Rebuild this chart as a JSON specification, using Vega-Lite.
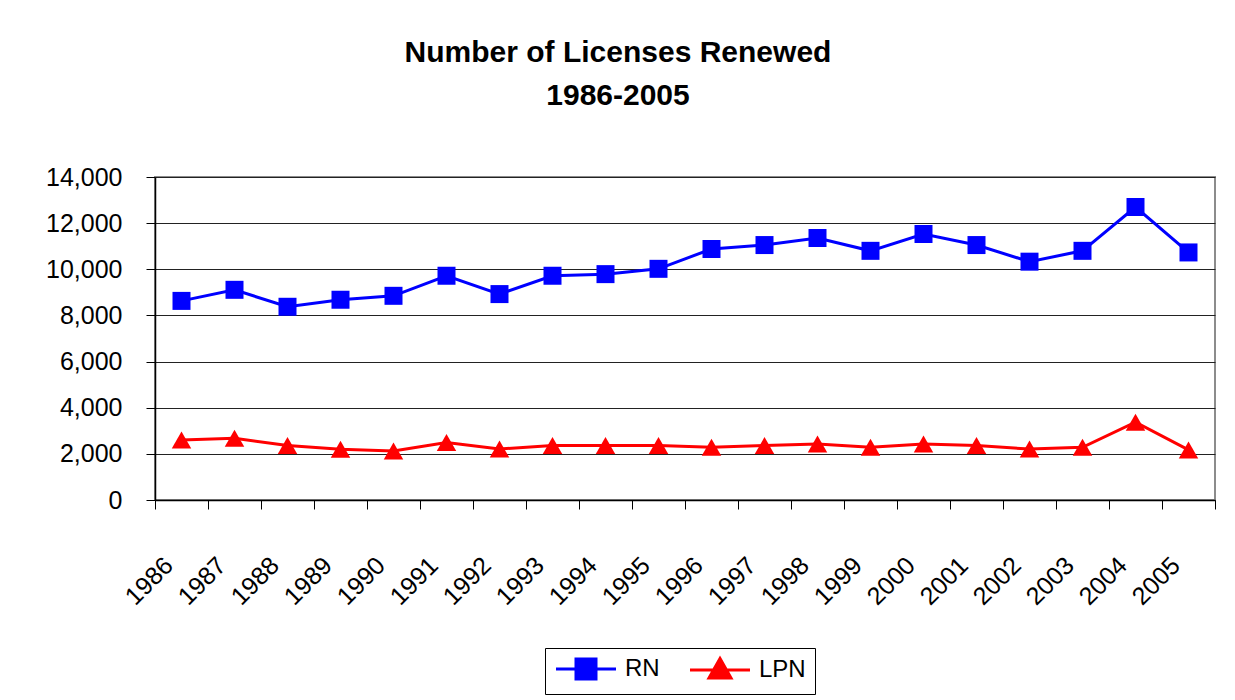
{
  "$schema": "https://vega.github.io/schema/vega-lite/v6.json",
  "autosize": "none",
  "padding": {"left": 155, "top": 177, "right": 20, "bottom": 200},
  "width": 1060,
  "height": 323,
  "background": "white",
  "config": {
    "font": "Liberation Sans",
    "view": {"stroke": "#8c8c8c", "strokeWidth": 2}
  },
  "title": {
    "text": ["Number of Licenses Renewed", "1986-2005"],
    "font": "Liberation Sans",
    "fontSize": 30,
    "fontWeight": "bold",
    "lineHeight": 43,
    "color": "black",
    "anchor": "middle",
    "frame": "group",
    "dx": -67,
    "offset": 54
  },
  "data": {
    "values": [
      {"year": "1986", "series": "RN", "value": 8630},
      {"year": "1987", "series": "RN", "value": 9110},
      {"year": "1988", "series": "RN", "value": 8375},
      {"year": "1989", "series": "RN", "value": 8680},
      {"year": "1990", "series": "RN", "value": 8850},
      {"year": "1991", "series": "RN", "value": 9720},
      {"year": "1992", "series": "RN", "value": 8925},
      {"year": "1993", "series": "RN", "value": 9720},
      {"year": "1994", "series": "RN", "value": 9790},
      {"year": "1995", "series": "RN", "value": 10020},
      {"year": "1996", "series": "RN", "value": 10880},
      {"year": "1997", "series": "RN", "value": 11050},
      {"year": "1998", "series": "RN", "value": 11355},
      {"year": "1999", "series": "RN", "value": 10800},
      {"year": "2000", "series": "RN", "value": 11530},
      {"year": "2001", "series": "RN", "value": 11050},
      {"year": "2002", "series": "RN", "value": 10330},
      {"year": "2003", "series": "RN", "value": 10800},
      {"year": "2004", "series": "RN", "value": 12700},
      {"year": "2005", "series": "RN", "value": 10730},
      {"year": "1986", "series": "LPN", "value": 2600},
      {"year": "1987", "series": "LPN", "value": 2675},
      {"year": "1988", "series": "LPN", "value": 2360},
      {"year": "1989", "series": "LPN", "value": 2200},
      {"year": "1990", "series": "LPN", "value": 2125},
      {"year": "1991", "series": "LPN", "value": 2490},
      {"year": "1992", "series": "LPN", "value": 2210},
      {"year": "1993", "series": "LPN", "value": 2360},
      {"year": "1994", "series": "LPN", "value": 2360},
      {"year": "1995", "series": "LPN", "value": 2360},
      {"year": "1996", "series": "LPN", "value": 2285},
      {"year": "1997", "series": "LPN", "value": 2360},
      {"year": "1998", "series": "LPN", "value": 2430},
      {"year": "1999", "series": "LPN", "value": 2285},
      {"year": "2000", "series": "LPN", "value": 2430},
      {"year": "2001", "series": "LPN", "value": 2360},
      {"year": "2002", "series": "LPN", "value": 2210},
      {"year": "2003", "series": "LPN", "value": 2285},
      {"year": "2004", "series": "LPN", "value": 3370},
      {"year": "2005", "series": "LPN", "value": 2170}
    ]
  },
  "encoding": {
    "x": {
      "field": "year",
      "type": "ordinal",
      "title": null,
      "scale": {"paddingInner": 0, "paddingOuter": 0},
      "axis": {
        "tickBand": "extent",
        "tickSize": 9,
        "tickColor": "black",
        "domainColor": "black",
        "domainWidth": 1.5,
        "labelAngle": -45,
        "labelAlign": "right",
        "labelBaseline": "middle",
        "labelPadding": 52,
        "labelOffset": -13,
        "labelFontSize": 25,
        "labelColor": "black",
        "labelFont": "Liberation Sans"
      }
    },
    "y": {
      "field": "value",
      "type": "quantitative",
      "title": null,
      "scale": {"domain": [0, 14000], "nice": false},
      "axis": {
        "values": [0, 2000, 4000, 6000, 8000, 10000, 12000, 14000],
        "format": ",d",
        "tickSize": 9,
        "tickColor": "black",
        "domainColor": "black",
        "domainWidth": 1.5,
        "gridColor": "#222",
        "gridWidth": 1,
        "labelPadding": 24,
        "labelFontSize": 25,
        "labelColor": "black",
        "labelFont": "Liberation Sans"
      }
    },
    "color": {
      "field": "series",
      "type": "nominal",
      "scale": {"domain": ["RN", "LPN"], "range": ["#0000ff", "#ff0000"]},
      "legend": {
        "title": null,
        "orient": "none",
        "legendX": 390,
        "legendY": 471,
        "direction": "horizontal",
        "columns": 2,
        "columnPadding": 24,
        "padding": 9,
        "strokeColor": "black",
        "fillColor": "white",
        "symbolSize": 400,
        "symbolType": "M-1,0H5M1,-1H3V1H1Z",
        "symbolStrokeWidth": 3,
        "labelFontSize": 24,
        "labelColor": "black",
        "labelOffset": 47,
        "encode": {
          "symbols": {
            "update": {
              "shape": {"signal": "datum.value === 'RN' ? 'M-1,0H5M1,-1H3V1H1Z' : 'M-1,0H5M2,-1.15L3.1,0.8H0.9Z'"},
              "fill": {"signal": "datum.value === 'RN' ? '#0000ff' : '#ff0000'"},
              "stroke": {"signal": "datum.value === 'RN' ? '#0000ff' : '#ff0000'"},
              "strokeWidth": {"value": 3},
              "opacity": {"value": 1}
            }
          }
        }
      }
    }
  },
  "layer": [
    {
      "mark": {"type": "line", "strokeWidth": 3}
    },
    {
      "transform": [{"filter": "datum.series === 'RN'"}],
      "mark": {"type": "point", "shape": "square", "filled": true, "opacity": 1, "size": 324}
    },
    {
      "transform": [{"filter": "datum.series === 'LPN'"}],
      "mark": {"type": "point", "shape": "triangle-up", "filled": true, "opacity": 1, "size": 380}
    }
  ]
}
